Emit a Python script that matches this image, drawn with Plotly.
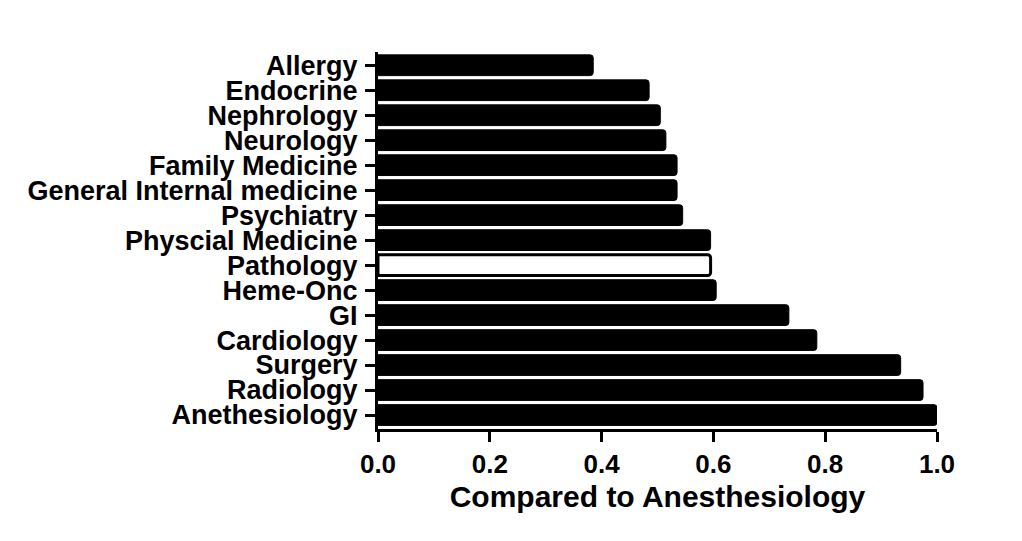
import plotly.graph_objects as go

categories = ["Anethesiology", "Radiology", "Surgery", "Cardiology", "GI", "Heme-Onc",
              "Pathology", "Physcial Medicine", "Psychiatry", "General Internal medicine",
              "Family Medicine", "Neurology", "Nephrology", "Endocrine", "Allergy"]
values = [1.0, 0.975, 0.935, 0.785, 0.735, 0.605, 0.595, 0.595, 0.545, 0.535,
          0.535, 0.515, 0.505, 0.485, 0.385]
x_ticks = [0.0, 0.2, 0.4, 0.6, 0.8, 1.0]
x_ticklabels = ["0.0", "0.2", "0.4", "0.6", "0.8", "1.0"]

fill = ["white" if c == "Pathology" else "black" for c in categories]
lw = [3 if c == "Pathology" else 1 for c in categories]

fig = go.Figure(go.Bar(
    x=values, y=categories, orientation="h",
    marker=dict(color=fill, line=dict(color="black", width=lw), cornerradius=3),
    hoverinfo="x+y",
))

font = "Liberation Sans, Arial, sans-serif"
fig.update_layout(
    width=1022, height=541,
    margin=dict(l=370, r=93, t=44, b=120),
    paper_bgcolor="white", plot_bgcolor="white",
    bargap=0.17,
    showlegend=False,
    font=dict(family=font, color="black"),
)
fig.update_xaxes(
    range=[0, 1.0], tickmode="array", tickvals=x_ticks, ticktext=x_ticklabels,
    showgrid=False, zeroline=False, automargin=False,
    showline=True, linecolor="black", linewidth=3,
    ticks="outside", ticklen=10, tickwidth=3, tickcolor="black",
    tickfont=dict(family=font, size=26, color="black", weight="bold"),
    title=dict(text="<b>Compared to Anesthesiology</b>",
               font=dict(family=font, size=30, color="black"), standoff=8),
)
fig.update_yaxes(
    range=[-0.56, 14.53], tickmode="array", tickvals=categories, ticktext=categories,
    showgrid=False, zeroline=False, automargin=False,
    showline=True, linecolor="black", linewidth=3,
    ticks="outside", ticklen=10, tickwidth=3, tickcolor="black",
    tickfont=dict(family=font, size=27, color="black", weight="bold"),
    ticklabelstandoff=2,
)

fig.write_html("out.html")
